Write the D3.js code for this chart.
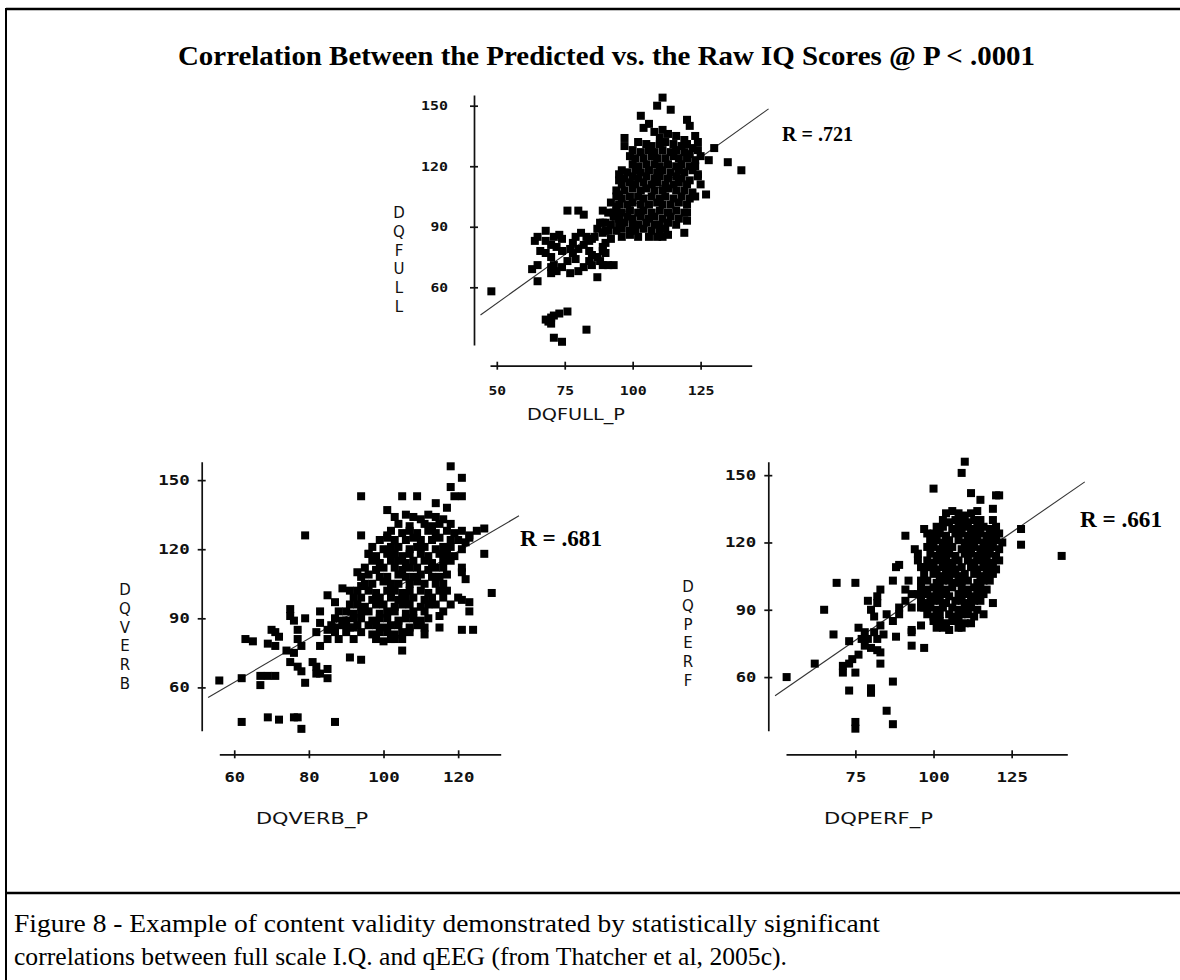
<!DOCTYPE html>
<html>
<head>
<meta charset="utf-8">
<script src="https://cdn.jsdelivr.net/npm/d3@7"></script>
<style>
  body { margin: 0; background: #fff; }
</style>
</head>
<body>
<svg id="chart" width="1180" height="980"></svg>
<script>
// Predicted vs raw IQ scatter plots

var title = "Correlation Between the Predicted vs. the Raw IQ Scores @ P < .0001";
var caption = ["Figure 8 -  Example of content validity demonstrated by statistically significant",
               "correlations between full scale I.Q. and qEEG (from Thatcher et al, 2005c)."];

var fullTicksX = [50, 75, 100, 125];
var fullTicksY = [60, 90, 120, 150];
var verbTicksX = [60, 80, 100, 120];
var verbTicksY = [60, 90, 120, 150];
var perfTicksX = [75, 100, 125];
var perfTicksY = [60, 90, 120, 150];

var rValues = ["R = .721", "R = .681", "R = .661"];

// regression line end points [predicted, raw]
var fullFit = [[44, 46.3], [150, 148.4]];
var verbFit = [[53, 55.6], [136.3, 134.5]];
var perfFit = [[49.3, 51.7], [148.4, 147]];

// [predicted, raw]
var fullPoints = [
  [48,58],[68,44],[70,45],[71,46],[73,47],[76,48],[70,42],[71,35],[74,33],[83,39],[69,43],
  [76,98],[80,98],[82,96],
  [64,83],[65,85],[68,88],[71,85],[73,86],[74,84],[68,83],[70,81],[72,80],[66,78],[68,77],[70,75],
  [74,78],[77,79],[78,82],[79,85],[81,87],[83,85],[84,83],[85,84],[78,77],[80,79],[82,81],[84,78],
  [85,76],[87,75],[89,78],[89,80],[90,77],[79,74],[76,73],[74,70],[71,71],[70,70],[65,71],[63,69],
  [65,63],[70,67],[72,68],[77,67],[80,68],[87,65],[89,71],[91,71],[93,71],[88,73],[86,85],[87,89],
  [88,92],[90,92],[89,87],[91,88],[92,84],[90,82],[82,70],[84,73],[85,71],
  [89,98],[92,102],[93,97],[94,95],[95,91],[94,100],[95,106],[95,113],[95,116],[97,134],[97,130],
  [130,129],[128,123],[135,122],[140,118],[127,106],[124,115],[125,111],[119,87],[120,93],[120,97],
  [103,145],[109,150],[111,154],[114,148],[120,143],[121,140],
  [104,139],[106,141],[108,137],[111,138],[110,134],[113,136],[116,135],[119,133],[123,135],[124,132],
  [102,132],[105,131],[107,130],[110,131],[112,132],[115,131],[118,130],[120,131],[122,129],
  [100,128],[103,127],[106,128],[108,127],[111,128],[114,127],[116,128],[119,127],[121,126],[124,128],
  [99,125],[101,124],[104,124],[107,125],[109,124],[112,124],[115,125],[117,124],[120,124],[123,123],[125,125],
  [100,121],[102,120],[105,121],[108,121],[110,120],[113,121],[116,120],[118,121],[121,120],[123,120],
  [96,118],[98,117],[101,118],[103,117],[106,118],[109,117],[111,118],[114,117],[117,118],[119,117],[122,118],[124,116],
  [97,114],[100,115],[102,114],[105,115],[108,114],[110,115],[113,114],[116,115],[118,114],[121,113],
  [96,111],[99,112],[101,111],[104,112],[107,111],[109,112],[112,111],[115,111],[117,112],[120,111],
  [94,108],[97,108],[100,109],[103,108],[105,109],[108,108],[111,108],[113,109],[116,108],[119,108],[122,107],
  [94,105],[96,104],[99,105],[102,105],[104,104],[107,105],[110,104],[112,105],[115,104],[118,105],[121,104],[123,105],
  [95,101],[98,101],[100,102],[103,101],[106,101],[109,102],[111,101],[114,101],[117,102],[120,101],
  [91,97],[94,98],[96,97],[99,98],[102,97],[104,98],[107,97],[110,98],[113,97],[116,98],[119,97],
  [93,95],[95,94],[98,95],[100,94],[103,95],[106,94],[108,95],[111,94],[114,95],[117,94],
  [89,92],[92,91],[97,92],[100,91],[102,91],[105,92],[108,91],[110,91],[113,92],[116,91],
  [90,88],[94,88],[96,89],[99,88],[101,88],[104,89],[107,88],[110,88],[112,89],
  [96,85],[99,86],[102,85],[106,85],[109,85],[111,85],[113,86]
];

var verbPoints = [
  [118,156],[121,151],[94,143],[105,143],[109,143],[118,147],[119,143],[121,143],[114,140],[117,138],
  [101,137],[79,126],[94,126],[101,126],[127,129],[125,128],[123,126],[122,123],[127,118],[129,101],
  [121,110],[122,107],[121,98],[123,97],[123,93],[121,85],[124,85],[115,91],[115,86],[111,86],[111,83],
  [105,76],[102,81],[92,81],[91,73],[94,72],
  [56,63],[62,64],[67,65],[67,61],[69,65],[71,65],[79,62],[63,81],[65,80],[70,85],[71,84],[69,79],
  [71,78],[72,82],[75,94],[75,91],[76,89],[79,90],[77,85],[77,81],[74,76],[75,71],[77,69],[78,67],
  [76,75],[78,78],[81,71],[82,69],[83,66],[85,64],[85,68],[82,66],[83,93],[85,100],[87,97],[83,88],
  [82,84],[83,78],[85,81],[87,84],[87,86],[85,85],[88,81],[89,103],[91,102],[93,110],[94,104],[96,118],
  [90,89],[92,86],
  [62,45],[69,47],[72,46],[76,47],[77,47],[78,42],[87,45],
  [103,134],[106,135],[108,134],[110,133],[112,135],[114,134],[116,133],
  [104,131],[107,130],[111,131],[113,130],[115,131],[118,131],
  [102,128],[105,127],[107,128],[109,127],[112,128],[114,127],[117,128],[119,127],[121,128],
  [99,124],[101,125],[103,124],[106,124],[108,125],[110,124],[113,124],[115,125],[118,124],[120,124],[123,125],
  [97,121],[100,120],[102,121],[104,121],[107,120],[109,121],[111,121],[114,120],[116,121],[118,121],[121,120],
  [96,118],[98,117],[101,118],[103,118],[105,117],[107,118],[110,118],[112,117],[115,118],[117,118],[119,117],
  [97,115],[99,114],[102,115],[104,115],[106,114],[108,115],[111,115],[113,114],[116,115],[118,115],
  [95,112],[98,111],[100,112],[103,112],[105,111],[107,112],[109,112],[112,111],[114,112],[116,112],[121,112],
  [94,108],[96,109],[99,108],[101,108],[104,109],[106,108],[108,108],[110,109],[113,108],[115,108],[117,109],
  [95,105],[97,105],[100,106],[102,105],[104,105],[107,105],[109,106],[111,105],[114,105],[116,105],
  [93,102],[96,102],[98,101],[101,102],[103,102],[105,101],[107,102],[110,102],[112,101],[115,102],[117,102],
  [92,99],[94,99],[97,98],[99,99],[102,99],[104,98],[106,99],[108,99],[111,98],[113,99],[116,99],[120,99],
  [91,96],[93,96],[95,95],[98,96],[100,96],[103,95],[105,96],[107,96],[110,95],[112,96],[114,96],[118,96],
  [88,93],[90,93],[92,92],[94,93],[96,93],[99,92],[101,93],[103,93],[106,92],[108,93],[111,93],[116,93],
  [87,90],[89,89],[92,90],[94,90],[97,89],[99,90],[101,90],[104,89],[106,90],[108,90],[110,89],[112,90],
  [86,87],[89,87],[91,86],[93,87],[96,87],[98,87],[100,86],[102,87],[104,87],[107,86],[109,87],
  [90,84],[94,84],[97,83],[99,84],[101,84],[103,83],[105,84],[107,84],
  [98,81],[100,80],[103,81],[105,81]
];

var perfPoints = [
  [110,156],[109,151],[100,144],[112,142],[115,139],[120,141],[121,141],[119,135],[128,126],[128,119],
  [141,114],[91,123],[69,102],[75,102],[65,90],[68,79],[62,66],[53,60],[119,93],[116,88],[112,84],
  [108,82],[97,73],[93,74],[93,80],[88,78],[76,82],[73,76],[83,66],[87,58],[80,54],[73,54],[75,62],
  [71,62],[85,45],[75,40],[75,37],[87,39],[80,55],[80,53],
  [77,77],[78,80],[79,77],[81,80],[82,77],[84,79],[80,73],[82,72],[83,71],[78,74],[76,70],[74,68],
  [73,66],[71,65],[83,83],[81,87],[82,93],[82,96],[83,99],[79,94],[80,90],[85,88],[87,85],[89,88],
  [89,91],[91,94],[92,103],[87,103],[88,109],[89,110],[91,99],[93,97],[93,91],[96,96],[96,91],[96,83],
  [93,81],[95,115],[95,112],[96,109],[98,124],[99,121],[97,126],[94,117],
  [104,133],[106,134],[108,133],[110,132],[112,133],[114,134],
  [103,130],[105,129],[107,130],[109,130],[111,129],[113,130],[115,130],[119,130],
  [101,127],[103,127],[106,126],[108,127],[110,127],[112,126],[114,127],[116,127],[118,126],[120,127],
  [100,124],[102,124],[104,123],[107,124],[109,124],[111,123],[113,124],[115,124],[117,123],[119,124],[121,124],
  [99,121],[101,121],[103,120],[105,121],[108,121],[110,120],[112,121],[114,121],[116,120],[118,121],[120,121],[122,120],
  [98,118],[100,118],[102,117],[104,118],[106,118],[109,117],[111,118],[113,118],[115,117],[117,118],[119,118],[121,117],
  [99,115],[101,114],[103,115],[105,115],[107,114],[110,115],[112,115],[114,114],[116,115],[118,115],[120,114],
  [98,112],[100,111],[102,112],[104,112],[106,111],[108,112],[111,112],[113,111],[115,112],[117,112],[119,111],[121,112],
  [97,109],[99,109],[101,108],[103,109],[105,109],[107,108],[109,109],[112,109],[114,108],[116,109],[118,109],[120,108],
  [97,106],[100,106],[102,105],[104,106],[106,106],[108,105],[110,106],[113,106],[115,105],[117,106],[119,106],
  [96,103],[98,103],[101,102],[103,103],[105,103],[107,102],[109,103],[111,103],[114,102],[116,103],[118,103],
  [96,100],[98,99],[100,100],[102,100],[104,99],[106,100],[109,100],[111,99],[113,100],[115,100],[117,99],
  [95,97],[97,97],[99,96],[101,97],[103,97],[105,96],[108,97],[110,97],[112,96],[114,97],[116,97],
  [96,94],[98,93],[100,94],[102,94],[104,93],[107,94],[109,94],[111,93],[113,94],[115,94],
  [97,91],[99,91],[101,90],[103,91],[106,91],[108,90],[110,91],[112,91],[114,90],
  [98,88],[100,87],[102,88],[105,88],[107,87],[109,88],[111,88],[113,87],
  [100,85],[102,85],[104,84],[106,85],[108,85],[110,84],
  [101,82],[103,82],[105,81],[109,82]
];

var panels = [
  { points: fullPoints, fit: fullFit, ticksX: fullTicksX, ticksY: fullTicksY,
    xName: "DQFULL_P", yName: "DQFULL", r: rValues[0],
    xDom: [47.5, 143.8], yDom: [31.4, 155.3], xRange: [490, 751.7], yRange: [345, 95],
    axisAt: 365.7, yAxisAt: 474, padY: 22, padX: 16, tickFont: 12.5, charW: 9.3,
    xNamePos: [576, 415, 98], yNamePos: [399, 213], rPos: [782, 141, 20, 71] },
  { points: verbPoints, fit: verbFit, ticksX: verbTicksX, ticksY: verbTicksY,
    xName: "DQVERB_P", yName: "DQVERB", r: rValues[1],
    xDom: [56, 131.4], yDom: [41.2, 158], xRange: [219.3, 500.7], yRange: [730.7, 461.7],
    axisAt: 754.3, yAxisAt: 201.7, padY: 8, padX: 14, tickFont: 14, charW: 10.8,
    xNamePos: [312, 819, 112], yNamePos: [125, 590], rPos: [520, 545.5, 24, 82] },
  { points: perfPoints, fit: perfFit, ticksX: perfTicksX, ticksY: perfTicksY,
    xName: "DQPERF_P", yName: "DQPERF", r: rValues[2],
    xDom: [52.8, 142.8], yDom: [36.1, 156], xRange: [786, 1067.3], yRange: [730.7, 461.7],
    axisAt: 754.3, yAxisAt: 768.3, padY: 8, padX: 14, tickFont: 14, charW: 10.8,
    xNamePos: [878.5, 819, 109], yNamePos: [688, 587], rPos: [1080, 526.5, 24, 82] }
];

var svg = d3.select("#chart");

// frame
svg.append("line").attr("x1", 6).attr("x2", 1180).attr("y1", 9).attr("y2", 9)
   .attr("stroke", "#000").attr("stroke-width", 2.5);
svg.append("line").attr("x1", 6).attr("x2", 6).attr("y1", 8).attr("y2", 980)
   .attr("stroke", "#000").attr("stroke-width", 2);
svg.append("line").attr("x1", 6).attr("x2", 1180).attr("y1", 893).attr("y2", 893)
   .attr("stroke", "#000").attr("stroke-width", 2.5);

svg.append("text")
   .attr("x", 178).attr("y", 65)
   .attr("textLength", 857).attr("lengthAdjust", "spacingAndGlyphs")
   .style("font-family", "'Liberation Serif', 'Times New Roman', serif")
   .style("font-weight", "bold").style("font-size", "28px")
   .text(title);

svg.selectAll(".caption").data(caption).enter().append("text")
   .attr("class", "caption")
   .attr("x", 14)
   .attr("y", function (d, i) { return 932 + i * 33; })
   .attr("textLength", function (d, i) { return i == 0 ? 866 : 773; })
   .attr("lengthAdjust", "spacingAndGlyphs")
   .style("font-family", "'Liberation Serif', 'Times New Roman', serif")
   .style("font-size", "26px")
   .text(function (d) { return d; });

panels.forEach(drawPanel);

function drawPanel(p) {
  var x = d3.scaleLinear().domain(p.xDom).range(p.xRange);
  var y = d3.scaleLinear().domain(p.yDom).range(p.yRange);
  var g = svg.append("g");

  // y axis, ticks cross the line
  var ya = g.append("g")
     .attr("transform", "translate(" + p.yAxisAt + ",0)")
     .call(d3.axisLeft(y).tickValues(p.ticksY).tickSize(4).tickSizeOuter(0).tickPadding(p.padY));
  ya.selectAll(".tick line").attr("x1", 4);

  var xa = g.append("g")
     .attr("transform", "translate(0," + p.axisAt + ")")
     .call(d3.axisBottom(x).tickValues(p.ticksX).tickSize(4).tickSizeOuter(0).tickPadding(p.padX));
  xa.selectAll(".tick line").attr("y1", -4);

  g.selectAll(".domain, .tick line").attr("stroke", "#111").attr("stroke-width", 1.7);
  g.selectAll(".tick text")
   .attr("fill", "#111")
   .attr("textLength", function (d) { return String(d).length * p.charW - 1; })
   .attr("lengthAdjust", "spacingAndGlyphs")
   .style("font-family", "'DejaVu Sans Mono', monospace")
   .style("font-weight", "bold")
   .style("font-size", p.tickFont + "px");

  // axis names
  g.append("text")
   .attr("x", p.xNamePos[0]).attr("y", p.xNamePos[1])
   .attr("text-anchor", "middle").attr("dominant-baseline", "central")
   .attr("textLength", p.xNamePos[2]).attr("lengthAdjust", "spacingAndGlyphs")
   .attr("fill", "#111")
   .style("font-family", "'DejaVu Sans', sans-serif").style("font-size", "15px")
   .text(p.xName);

  g.selectAll(".yname").data(p.yName.split("")).enter().append("text")
   .attr("class", "yname")
   .attr("x", p.yNamePos[0])
   .attr("y", function (d, i) { return p.yNamePos[1] + i * 18.8; })
   .attr("text-anchor", "middle").attr("dominant-baseline", "central")
   .attr("fill", "#111")
   .style("font-family", "'DejaVu Sans', sans-serif").style("font-size", "15px")
   .text(function (d) { return d; });

  // regression line
  g.append("path")
   .datum(p.fit)
   .attr("d", d3.line().x(function (d) { return x(d[0]); }).y(function (d) { return y(d[1]); }))
   .attr("stroke", "#333").attr("stroke-width", 1.1).attr("fill", "none");

  g.selectAll(".pt").data(p.points).enter().append("rect")
   .attr("class", "pt")
   .attr("x", function (d) { return x(d[0]) - 4; })
   .attr("y", function (d) { return y(d[1]) - 4; })
   .attr("width", 8).attr("height", 8)
   .attr("fill", "#000");

  g.append("text")
   .attr("x", p.rPos[0]).attr("y", p.rPos[1])
   .attr("textLength", p.rPos[3]).attr("lengthAdjust", "spacingAndGlyphs")
   .style("font-family", "'Liberation Serif', 'Times New Roman', serif")
   .style("font-weight", "bold").style("font-size", p.rPos[2] + "px")
   .text(p.r);
}
</script>
</body>
</html>
